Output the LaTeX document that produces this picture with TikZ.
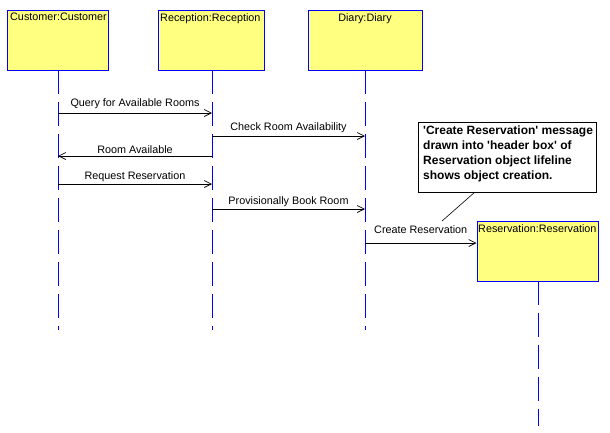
\documentclass[tikz,border=0pt]{standalone}
\usepackage{fontspec}
\setmainfont{Liberation Sans}
\usetikzlibrary{arrows.meta}
\newcommand{\sq}{\textquotesingle}
\begin{document}
\begin{tikzpicture}[x=1pt,y=-1pt,
  obj/.style={draw=blue,fill={rgb,255:red,255;green,255;blue,128},line width=1pt,minimum height=60pt,inner sep=0pt},
  lbl/.style={font=\fontsize{10.8}{12}\selectfont,inner sep=0pt},
  life/.style={draw=blue,line width=0.9pt,dash pattern=on 24pt off 8pt},
  msg/.style={draw=black,line width=0.8pt,-{Straight Barb[length=7pt,width=7pt,line width=0.7pt]}},
  note/.style={draw=black,line width=1pt,fill=white,minimum width=178pt,minimum height=70pt,inner sep=0pt}]
\useasboundingbox (0,0) rectangle (610,432);
% object boxes
\node[obj,minimum width=101pt] (cust) at (57.5,40) {};
\node[lbl,anchor=north west] (custt) at (10,13) {Customer:Customer};
\node[obj,minimum width=106pt] (recp) at (211,40) {};
\node[lbl,anchor=north west] (recpt) at (160,13) {Reception:Reception};
\node[obj,minimum width=114pt] (diary) at (365,40) {};
\node[lbl,anchor=north] (diaryt) at (365,13) {Diary:Diary};
\node[obj,minimum width=121pt] (resv) at (537.5,251) {};
\node[lbl,anchor=north west] (resvt) at (478,224) {Reservation:Reservation};
% lifeline coordinates
\coordinate (c) at (58,70); \coordinate (ce) at (58,330);
\coordinate (r) at (212,70); \coordinate (re) at (212,330);
\coordinate (d) at (365,70); \coordinate (de) at (365,330);
\coordinate (v) at (538,281); \coordinate (ve) at (538,426);
\draw[life] (c) -- (ce);
\draw[life] (r) -- (re);
\draw[life] (d) -- (de);
\draw[life] (v) -- (ve);
% message rows
\coordinate (y1) at (0,113); \coordinate (y2) at (0,136);
\coordinate (y3) at (0,156); \coordinate (y4) at (0,184);
\coordinate (y5) at (0,209); \coordinate (y6) at (0,243);
\draw[msg] (c |- y1) -- node[lbl,above=4pt] (m1) {Query for Available Rooms} (r |- y1);
\draw[msg] (r |- y2) -- node[lbl,above=3pt] (m2) {Check Room Availability} (d |- y2);
\draw[msg] (r |- y3) -- node[lbl,above=2pt] (m3) {Room Available} (c |- y3);
\draw[msg] (c |- y4) -- node[lbl,above=2pt] (m4) {Request Reservation} (r |- y4);
\draw[msg] (r |- y5) -- node[lbl,above=2pt] (m5) {Provisionally Book Room} (d |- y5);
\draw[msg] (d |- y6) -- (resv.west |- y6);
\node[lbl,anchor=south west] (m6) at (374,234) {Create Reservation};
% note
\node[note] (nt) at (507,157) {};
\node[lbl,anchor=north west,align=left,font=\fontsize{12}{15}\selectfont\bfseries] (ntt) at (423,126) {\sq Create Reservation\sq{} message\\drawn into \sq header box\sq{} of\\Reservation object lifeline\\shows object creation.};
\coordinate (na) at (475,192);
\coordinate (nb) at (442,221);
\draw[black,line width=0.6pt] (na) -- (nb);
\end{tikzpicture}
\end{document}
